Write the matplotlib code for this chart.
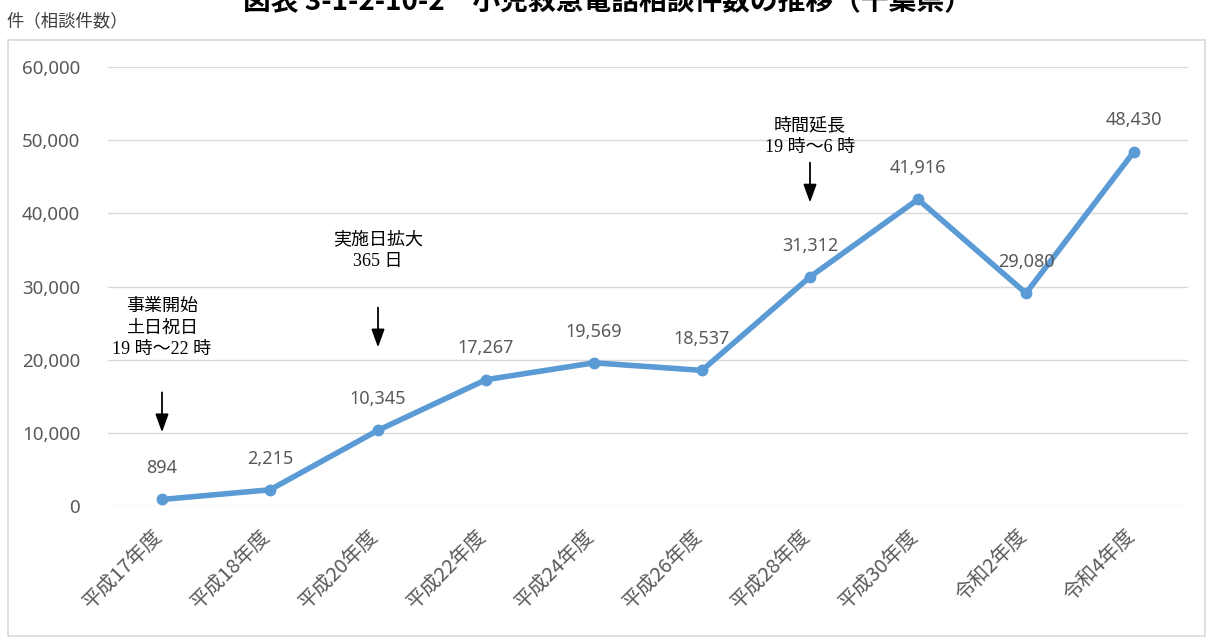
import matplotlib
matplotlib.use("Agg")
import matplotlib.pyplot as plt
import matplotlib.transforms as mtrans
from matplotlib.patches import Rectangle
from matplotlib.ticker import FuncFormatter

plt.rcParams['font.family'] = ['Noto Sans CJK JP', 'DejaVu Sans']

# -------------------------------
# DATA
# -------------------------------
years = ["平成17年度", "平成18年度", "平成20年度", "平成22年度", "平成24年度",
         "平成26年度", "平成28年度", "平成30年度", "令和2年度", "令和4年度"]
counts = [894, 2215, 10345, 17267, 19569, 18537, 31312, 41916, 29080, 48430]

# annotation notes: category index, text, text y, arrow start y, arrow end y
note_idx = [0, 2, 6]
note_text = ["事業開始\n土日祝日\n19 時～22 時", "実施日拡大\n365 日", "時間延長\n19 時～6 時"]
note_y = [24300, 34850, 50450]
arrow_top = [15900, 27500, 47300]
arrow_bot = [9700, 21300, 41100]

GRAY = "#595959"
BLUE = "#5B9BD5"

# -------------------------------
# FIGURE
# -------------------------------
fig = plt.figure(figsize=(12.12, 6.39), dpi=100)

# outer chart frame
fig.patches.append(Rectangle((8 / 1212, 1 - 636 / 639), 1197 / 1212, 596 / 639,
                             transform=fig.transFigure, fill=False,
                             edgecolor="#D9D9D9", lw=1.2))

ax = fig.add_axes([108 / 1212, 1 - 506 / 639, 1080 / 1212, 439 / 639])
x = list(range(len(years)))

ax.plot(x, counts, color=BLUE, lw=4, marker="o", ms=7.5, zorder=3,
        solid_capstyle="round")

for xi, v in zip(x, counts):
    ax.annotate(f"{v:,}", (xi, v), xytext=(0, 16), textcoords="offset points",
                ha="center", va="bottom", fontsize=13, color=GRAY,
                family=["Noto Sans", "DejaVu Sans"])

for i, t, ty, a0, a1 in zip(note_idx, note_text, note_y, arrow_top, arrow_bot):
    ax.text(i, ty, t, ha="center", va="center", fontsize=13, color="black",
            linespacing=1.35, family=["Liberation Serif", "Noto Sans CJK JP"])
    ax.annotate("", xy=(i, a1), xytext=(i, a0),
                arrowprops=dict(arrowstyle="-|>,head_width=0.4,head_length=1.1",
                                color="black", lw=1.3))

ax.set_xlim(-0.5, len(years) - 0.5)
ax.set_ylim(0, 60000)
ax.set_yticks(range(0, 60001, 10000))
ax.yaxis.set_major_formatter(FuncFormatter(lambda v, p: f"{int(v):,}"))
ax.grid(axis="y", color="#D9D9D9", lw=1)
ax.set_axisbelow(True)
for s in ax.spines.values():
    s.set_visible(False)
ax.tick_params(axis="both", length=0, colors=GRAY)
ax.tick_params(axis="y", labelsize=13.5, pad=20)
for lab in ax.get_yticklabels():
    lab.set_family(["Noto Sans", "DejaVu Sans"])

ax.set_xticks(x)
ax.set_xticklabels(years, rotation=45, ha="right", rotation_mode="anchor",
                   fontsize=14.5, color=GRAY)
ax.tick_params(axis="x", pad=14)
shift = mtrans.ScaledTranslation(-10 / 100, 0, fig.dpi_scale_trans)
for lab in ax.get_xticklabels():
    lab.set_transform(lab.get_transform() + shift)

fig.text(6 / 1212, 1 - 21 / 639, "件（相談件数）", fontsize=12.5, color="#404040",
         ha="left", va="center")
fig.text(607 / 1212, 1 - 1 / 639, "図表 3-1-2-10-2　小児救急電話相談件数の推移（千葉県）",
         fontsize=20, fontweight="bold", ha="center", va="center", color="black")

fig.savefig("out.png", dpi=100, facecolor="white")
